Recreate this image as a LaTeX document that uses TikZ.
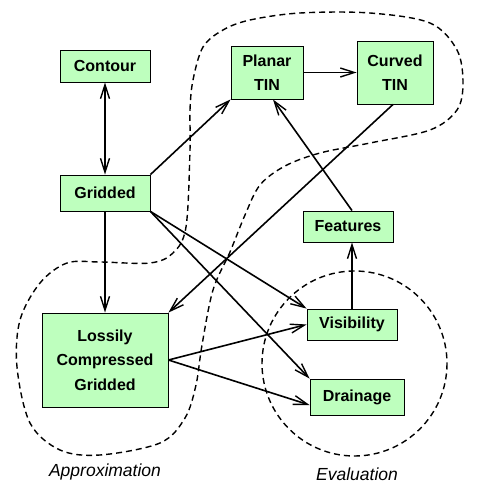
\documentclass[tikz,border=0pt]{standalone}
\usepackage{fontspec}
\setmainfont{Liberation Sans}
\usetikzlibrary{arrows.meta,calc}
\definecolor{boxgreen}{RGB}{190,255,190}
\begin{document}
\begin{tikzpicture}[x=1pt,y=-1pt,
  box/.style={draw,fill=boxgreen,line width=0.9pt,inner sep=0pt,align=center,
    font=\fontsize{16}{24.5}\selectfont\bfseries},
  conn/.style={line width=1.6pt,-{Straight Barb[length=14pt,width=9pt,line width=1.4pt]}},
  region/.style={dashed,dash pattern=on 6pt off 4pt,line width=1.4pt},
  tag/.style={font=\fontsize{17.5}{20}\selectfont\itshape}]
\useasboundingbox (0,0) rectangle (481,496);
\fill[white] (0,0) rectangle (481,496);

% dashed regions
\draw[region] plot[smooth cycle,tension=0.55] coordinates {
 (190,150) (190,110) (193,80) (203,47) (223,30) (250,20) (300,13) (370,13)
 (430,23) (457,50) (463,83) (457,110) (430,130) (370,143) (320,153) (285,166)
 (260,185) (245,215) (230,252) (213,290) (202,345) (196,385) (185,418)
 (160,443) (100,455) (60,450) (30,423) (17,367) (20,320) (40,283) (67,263)
 (100,262) (150,263) (173,253) (186,227)};
\draw[region] (354.5,363.5) circle (92.5);

% nodes
\node[box,minimum width=90pt,minimum height=32pt] (contour) at (105,66) {Contour};
\node[box,minimum width=90pt,minimum height=36pt] (gridded) at (105,193) {Gridded};
\node[box,minimum width=72pt,minimum height=53pt] (planar) at (267,72.5) {Planar\\TIN};
\node[box,minimum width=76pt,minimum height=63pt] (curved) at (395,72.5) {Curved\\TIN};
\node[box,minimum width=90pt,minimum height=31pt] (features) at (348,226.5) {Features};
\node[box,minimum width=90pt,minimum height=31pt] (visibility) at (352,324.5) {Visibility};
\node[box,minimum width=94pt,minimum height=36pt] (drainage) at (357,397) {Drainage};
\node[box,minimum width=126pt,minimum height=94pt] (lossy) at (105,360) {Lossily\\Compressed\\Gridded};

\node[tag] (approx) at (105,472) {Approximation};
\node[tag] (eval) at (357,474) {Evaluation};

% connectors
\draw[conn,{Straight Barb[length=14pt,width=9pt,line width=1.4pt]}-{Straight Barb[length=14pt,width=9pt,line width=1.4pt]}] (contour) -- (gridded);
\draw[conn] (gridded.north east) -- (planar.south west);
\draw[conn] (planar.east) -- (curved.west);
\draw[conn] ([xshift=4pt]features.north) -- ([xshift=6pt]planar.south);
\draw[conn] ([xshift=-2pt]curved.south) -- (lossy.north east);
\draw[conn] (gridded) -- (lossy);
\draw[conn] (gridded.south east) -- (visibility.north west);
\draw[conn] (gridded.south east) -- (drainage.north west);
\draw[conn] (visibility) -- ([xshift=4pt]features.south);
\draw[conn] (lossy.east) -- (visibility.west);
\draw[conn] (lossy.east) -- ([yshift=-8pt]drainage.west);
\end{tikzpicture}
\end{document}
